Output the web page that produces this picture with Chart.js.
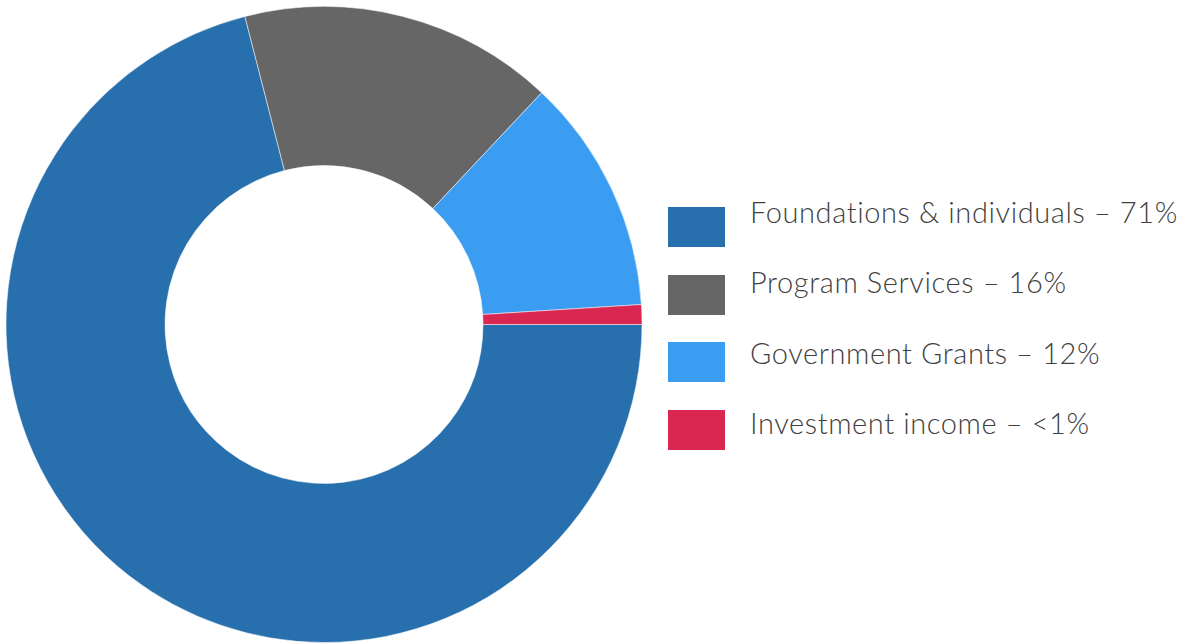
<!DOCTYPE html>
<html>
<head>
<meta charset="utf-8">
<script src="https://cdn.jsdelivr.net/npm/chart.js@4/dist/chart.umd.min.js"></script>
<style>
    html, body { margin: 0; padding: 0; background: #fff; }
    .wrap { position: relative; width: 1185px; height: 643px; }
    .chart-box { position: absolute; left: 0; top: 0; width: 648px; height: 643px; }
    .legend { position: absolute; left: 668px; top: 207px; margin: 0; padding: 0; list-style: none; font-family: Lato, "Open Sans", sans-serif; font-size: 29px; font-weight: 300; color: #3f3f3f; }
    .legend li { position: relative; height: 40px; margin-bottom: 27.5px; }
    .legend .swatch { position: absolute; left: 0; top: 0; width: 57px; height: 40px; }
    .legend .label { position: absolute; left: 82px; white-space: nowrap; letter-spacing: 0.6px; }
</style>
</head>
<body>
<div class="wrap">
    <div class="chart-box"><canvas id="revenueChart"></canvas></div>
    <ul class="legend" id="revenueLegend"></ul>
</div>
<script>
const categories = ['Foundations & individuals', 'Program Services', 'Government Grants', 'Investment income'];
const shareValues = [71, 16, 12, 1];
const shareLabels = ['71%', '16%', '12%', '<1%'];
const sliceColors = ['#2770ad', '#666666', '#3b9df2', '#da2752'];

function renderLegend() {
    const list = document.getElementById('revenueLegend');
    // labels drift a little lower than the swatches, as in the original
    list.innerHTML = categories.map((name, i) =>
        `<li><span class="swatch" style="background:${sliceColors[i]}"></span><span class="label" style="top:${-13 + i * 2.8}px">${name} – ${shareLabels[i]}</span></li>`
    ).join('');
}

function renderChart() {
    const canvas = document.getElementById('revenueChart');
    new Chart(canvas, {
        type: 'doughnut',
        data: {
            labels: categories,
            datasets: [{
                data: shareValues,
                backgroundColor: sliceColors,
                borderColor: 'rgba(255,255,255,0.5)',
                borderWidth: 1
            }]
        },
        options: {
            responsive: true,
            maintainAspectRatio: false,
            animation: false,
            rotation: 90,
            cutout: '50%',
            layout: { padding: { top: 6, bottom: 0, left: 5, right: 5 } },
            plugins: { legend: { display: false }, tooltip: { enabled: false } }
        }
    });
}

document.addEventListener('DOMContentLoaded', () => {
    renderLegend();
    renderChart();
});
</script>
</body>
</html>
